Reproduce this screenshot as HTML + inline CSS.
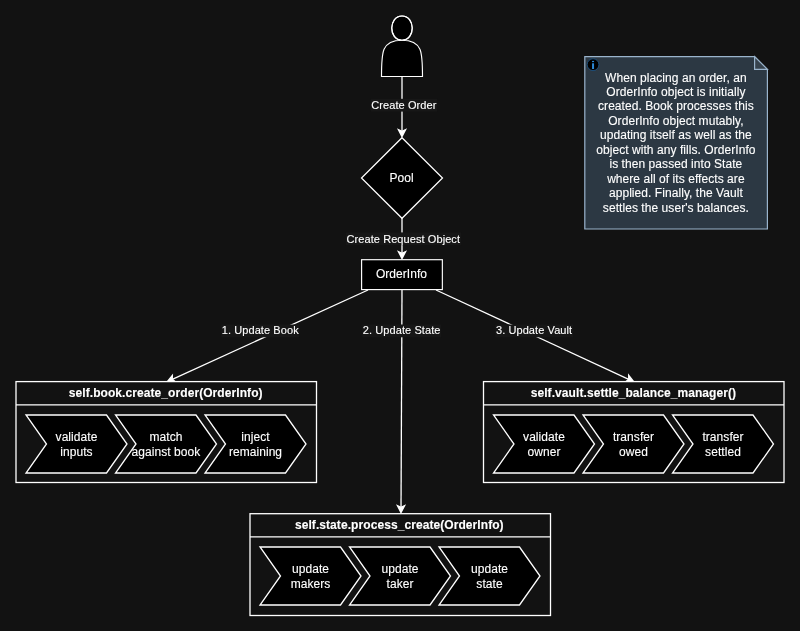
<!DOCTYPE html>
<html><head><meta charset="utf-8">
<style>
html,body{margin:0;padding:0;background:#121212;width:800px;height:631px;overflow:hidden}
svg{display:block;will-change:transform}
text{font-family:"Liberation Sans",sans-serif}
</style></head>
<body>
<svg width="800" height="631" viewBox="0 0 800 631">
<rect x="0" y="0" width="800" height="631" fill="#121212"/>

<path d="M381.5 76.5 C381.5 52.30 381.5 40.20 402.0 40.20 C388.33 40.20 388.33 16 402.0 16 C415.67 16 415.67 40.20 402.0 40.20 C422.5 40.20 422.5 52.30 422.5 76.5 Z" fill="#000" stroke="#ffffff" stroke-width="1.15"/>
<path d="M402.0 40.20 C388.33 40.20 388.33 16 402.0 16 C415.67 16 415.67 40.20 402.0 40.20" fill="none" stroke="#ffffff" stroke-width="1.15"/>
<line x1="402" y1="76.5" x2="402.00" y2="131.35" stroke="#ffffff" stroke-width="1.3"/>
<path d="M402.00 136.60 L398.40 129.60 L402.00 131.35 L405.60 129.60 Z" fill="#ffffff" stroke="#ffffff" stroke-width="1.3"/>
<line x1="402" y1="218" x2="402.00" y2="253.35" stroke="#ffffff" stroke-width="1.3"/>
<path d="M402.00 258.60 L398.40 251.60 L402.00 253.35 L405.60 251.60 Z" fill="#ffffff" stroke="#ffffff" stroke-width="1.3"/>
<line x1="402" y1="290" x2="401.02" y2="507.35" stroke="#ffffff" stroke-width="1.3"/>
<path d="M401.00 512.60 L397.43 505.58 L401.02 507.35 L404.63 505.62 Z" fill="#ffffff" stroke="#ffffff" stroke-width="1.3"/>
<line x1="368" y1="290" x2="172.28" y2="379.32" stroke="#ffffff" stroke-width="1.3"/>
<path d="M167.50 381.50 L172.37 375.32 L172.28 379.32 L175.36 381.87 Z" fill="#ffffff" stroke="#ffffff" stroke-width="1.3"/>
<line x1="436" y1="290" x2="628.74" y2="379.29" stroke="#ffffff" stroke-width="1.3"/>
<path d="M633.50 381.50 L625.64 381.82 L628.74 379.29 L628.66 375.29 Z" fill="#ffffff" stroke="#ffffff" stroke-width="1.3"/>
<rect x="370.8" y="98.8" width="66.39999999999998" height="12.799999999999997" fill="#171717"/>
<text x="403.9" y="108.7" font-size="11" fill="#fff" stroke="#fff" stroke-width="0.12" text-anchor="middle" letter-spacing="0.08">Create Order</text>
<rect x="345.8" y="232.4" width="115.39999999999998" height="12.699999999999989" fill="#171717"/>
<text x="403.3" y="242.6" font-size="11" fill="#fff" stroke="#fff" stroke-width="0.12" text-anchor="middle" letter-spacing="0.08">Create Request Object</text>
<rect x="221.3" y="324.5" width="77.89999999999998" height="12.800000000000011" fill="#171717"/>
<text x="260.25" y="333.8" font-size="11" fill="#fff" stroke="#fff" stroke-width="0.12" text-anchor="middle" letter-spacing="0.08">1. Update Book</text>
<rect x="362.3" y="324.5" width="78.89999999999998" height="12.800000000000011" fill="#171717"/>
<text x="401.7" y="333.8" font-size="11" fill="#fff" stroke="#fff" stroke-width="0.12" text-anchor="middle" letter-spacing="0.08">2. Update State</text>
<rect x="495.3" y="324.5" width="77.90000000000003" height="12.800000000000011" fill="#171717"/>
<text x="534.1" y="334" font-size="11" fill="#fff" stroke="#fff" stroke-width="0.12" text-anchor="middle" letter-spacing="0.08">3. Update Vault</text>
<path d="M402 137.7 L442.5 178 L402 218.3 L361.5 178 Z" fill="#000" stroke="#ffffff" stroke-width="1.25"/>
<text x="401.6" y="182.2" font-size="12" fill="#fff" stroke="#fff" stroke-width="0.12" text-anchor="middle" letter-spacing="0.06">Pool</text>
<rect x="361.6" y="259.7" width="80.75" height="29.9" fill="#000" stroke="#ffffff" stroke-width="1.15"/>
<text x="401.5" y="278.4" font-size="12" fill="#fff" stroke="#fff" stroke-width="0.12" text-anchor="middle" letter-spacing="0.06">OrderInfo</text>
<rect x="16" y="381.6" width="300.5" height="100.9" fill="#121212" stroke="#ffffff" stroke-width="1.3"/>
<line x1="16" y1="404.9" x2="316.5" y2="404.9" stroke="#ffffff" stroke-width="1.3"/>
<text x="165.7" y="396.8" font-size="12" font-weight="bold" fill="#fff" stroke="#fff" stroke-width="0.12" text-anchor="middle" letter-spacing="0.075">self.book.create_order(OrderInfo)</text>
<path d="M26 415 L106.5 415 L127 444.0 L106.5 473 L26 473 L46.5 444.0 Z" fill="#000" stroke="#ffffff" stroke-width="1.3"/>
<text x="76.5" y="441.0" font-size="12" fill="#fff" stroke="#fff" stroke-width="0.12" text-anchor="middle" letter-spacing="0.06">validate</text>
<text x="76.5" y="456.0" font-size="12" fill="#fff" stroke="#fff" stroke-width="0.12" text-anchor="middle" letter-spacing="0.06">inputs</text>
<path d="M115.5 415 L196.0 415 L216.5 444.0 L196.0 473 L115.5 473 L136.0 444.0 Z" fill="#000" stroke="#ffffff" stroke-width="1.3"/>
<text x="166.0" y="441.0" font-size="12" fill="#fff" stroke="#fff" stroke-width="0.12" text-anchor="middle" letter-spacing="0.06">match</text>
<text x="166.0" y="456.0" font-size="12" fill="#fff" stroke="#fff" stroke-width="0.12" text-anchor="middle" letter-spacing="0.06">against book</text>
<path d="M205 415 L285.5 415 L306 444.0 L285.5 473 L205 473 L225.5 444.0 Z" fill="#000" stroke="#ffffff" stroke-width="1.3"/>
<text x="255.5" y="441.0" font-size="12" fill="#fff" stroke="#fff" stroke-width="0.12" text-anchor="middle" letter-spacing="0.06">inject</text>
<text x="255.5" y="456.0" font-size="12" fill="#fff" stroke="#fff" stroke-width="0.12" text-anchor="middle" letter-spacing="0.06">remaining</text>
<rect x="483.5" y="381.6" width="300.5" height="100.9" fill="#121212" stroke="#ffffff" stroke-width="1.3"/>
<line x1="483.5" y1="404.9" x2="784.0" y2="404.9" stroke="#ffffff" stroke-width="1.3"/>
<text x="633.4" y="396.8" font-size="12" font-weight="bold" fill="#fff" stroke="#fff" stroke-width="0.12" text-anchor="middle" letter-spacing="0.075">self.vault.settle_balance_manager()</text>
<path d="M493.5 415 L574.0 415 L594.5 444.0 L574.0 473 L493.5 473 L514.0 444.0 Z" fill="#000" stroke="#ffffff" stroke-width="1.3"/>
<text x="544.0" y="441.0" font-size="12" fill="#fff" stroke="#fff" stroke-width="0.12" text-anchor="middle" letter-spacing="0.06">validate</text>
<text x="544.0" y="456.0" font-size="12" fill="#fff" stroke="#fff" stroke-width="0.12" text-anchor="middle" letter-spacing="0.06">owner</text>
<path d="M583 415 L663.5 415 L684 444.0 L663.5 473 L583 473 L603.5 444.0 Z" fill="#000" stroke="#ffffff" stroke-width="1.3"/>
<text x="633.5" y="441.0" font-size="12" fill="#fff" stroke="#fff" stroke-width="0.12" text-anchor="middle" letter-spacing="0.06">transfer</text>
<text x="633.5" y="456.0" font-size="12" fill="#fff" stroke="#fff" stroke-width="0.12" text-anchor="middle" letter-spacing="0.06">owed</text>
<path d="M672.5 415 L753.0 415 L773.5 444.0 L753.0 473 L672.5 473 L693.0 444.0 Z" fill="#000" stroke="#ffffff" stroke-width="1.3"/>
<text x="723.0" y="441.0" font-size="12" fill="#fff" stroke="#fff" stroke-width="0.12" text-anchor="middle" letter-spacing="0.06">transfer</text>
<text x="723.0" y="456.0" font-size="12" fill="#fff" stroke="#fff" stroke-width="0.12" text-anchor="middle" letter-spacing="0.06">settled</text>
<rect x="250" y="513.7" width="300.5" height="101.8" fill="#121212" stroke="#ffffff" stroke-width="1.3"/>
<line x1="250" y1="536.9" x2="550.5" y2="536.9" stroke="#ffffff" stroke-width="1.3"/>
<text x="399.3" y="528.8" font-size="12" font-weight="bold" fill="#fff" stroke="#fff" stroke-width="0.12" text-anchor="middle" letter-spacing="0.075">self.state.process_create(OrderInfo)</text>
<path d="M260 547 L340.5 547 L361 576.0 L340.5 605 L260 605 L280.5 576.0 Z" fill="#000" stroke="#ffffff" stroke-width="1.3"/>
<text x="310.5" y="573.0" font-size="12" fill="#fff" stroke="#fff" stroke-width="0.12" text-anchor="middle" letter-spacing="0.06">update</text>
<text x="310.5" y="588.0" font-size="12" fill="#fff" stroke="#fff" stroke-width="0.12" text-anchor="middle" letter-spacing="0.06">makers</text>
<path d="M349.5 547 L430.0 547 L450.5 576.0 L430.0 605 L349.5 605 L370.0 576.0 Z" fill="#000" stroke="#ffffff" stroke-width="1.3"/>
<text x="400.0" y="573.0" font-size="12" fill="#fff" stroke="#fff" stroke-width="0.12" text-anchor="middle" letter-spacing="0.06">update</text>
<text x="400.0" y="588.0" font-size="12" fill="#fff" stroke="#fff" stroke-width="0.12" text-anchor="middle" letter-spacing="0.06">taker</text>
<path d="M439 547 L519.5 547 L540 576.0 L519.5 605 L439 605 L459.5 576.0 Z" fill="#000" stroke="#ffffff" stroke-width="1.3"/>
<text x="489.5" y="573.0" font-size="12" fill="#fff" stroke="#fff" stroke-width="0.12" text-anchor="middle" letter-spacing="0.06">update</text>
<text x="489.5" y="588.0" font-size="12" fill="#fff" stroke="#fff" stroke-width="0.12" text-anchor="middle" letter-spacing="0.06">state</text>
<path d="M584.8 56.6 L754.6 56.6 L767.4 69.4 L767.4 229 L584.8 229 Z" fill="#2c3843" stroke="#9ab4cc" stroke-width="1.2"/>
<path d="M754.6 56.6 L754.6 69.4 L767.4 69.4 Z" fill="#37434e" stroke="#9ab4cc" stroke-width="1.2"/>
<circle cx="593.05" cy="64.65" r="5.9" fill="#000" stroke="#1d5a91" stroke-width="0.8"/>
<rect x="592.05" y="63.3" width="2" height="5.7" fill="#2a88d6"/>
<rect x="592.05" y="60.9" width="2" height="1.2" fill="#2a88d6"/>
<text x="675.9" y="81.5" font-size="12" fill="#fff" stroke="#fff" stroke-width="0.12" text-anchor="middle" letter-spacing="0.06">When placing an order, an</text>
<text x="675.9" y="95.9" font-size="12" fill="#fff" stroke="#fff" stroke-width="0.12" text-anchor="middle" letter-spacing="0.06">OrderInfo object is initially</text>
<text x="675.9" y="110.3" font-size="12" fill="#fff" stroke="#fff" stroke-width="0.12" text-anchor="middle" letter-spacing="0.06">created. Book processes this</text>
<text x="675.9" y="124.7" font-size="12" fill="#fff" stroke="#fff" stroke-width="0.12" text-anchor="middle" letter-spacing="0.06">OrderInfo object mutably,</text>
<text x="675.9" y="139.1" font-size="12" fill="#fff" stroke="#fff" stroke-width="0.12" text-anchor="middle" letter-spacing="0.06">updating itself as well as the</text>
<text x="675.9" y="154.1" font-size="12" fill="#fff" stroke="#fff" stroke-width="0.12" text-anchor="middle" letter-spacing="0.06">object with any fills. OrderInfo</text>
<text x="675.9" y="168.4" font-size="12" fill="#fff" stroke="#fff" stroke-width="0.12" text-anchor="middle" letter-spacing="0.06">is then passed into State</text>
<text x="675.9" y="182.6" font-size="12" fill="#fff" stroke="#fff" stroke-width="0.12" text-anchor="middle" letter-spacing="0.06">where all of its effects are</text>
<text x="675.9" y="197.1" font-size="12" fill="#fff" stroke="#fff" stroke-width="0.12" text-anchor="middle" letter-spacing="0.06">applied. Finally, the Vault</text>
<text x="675.9" y="211.6" font-size="12" fill="#fff" stroke="#fff" stroke-width="0.12" text-anchor="middle" letter-spacing="0.06">settles the user's balances.</text>
</svg>
</body></html>
